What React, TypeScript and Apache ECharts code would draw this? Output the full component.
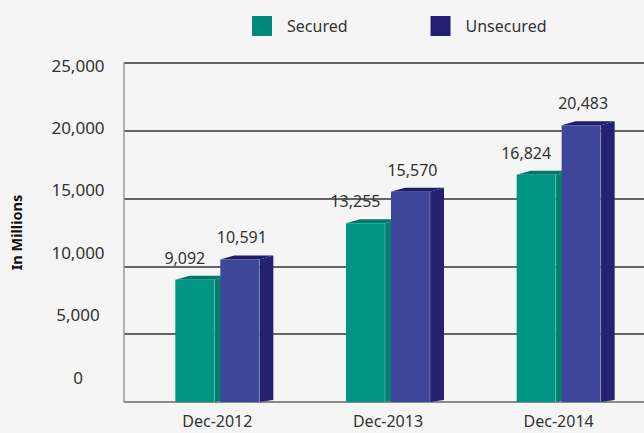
import React, { useEffect, useRef } from "react";
import * as echarts from "echarts";

const categories = ["Dec-2012", "Dec-2013", "Dec-2014"];
const secured = [9092, 13255, 16824];
const unsecured = [10591, 15570, 20483];
const yTicks = { min: 0, max: 25000, interval: 5000 };

const FONT = "'Noto Sans', 'Open Sans', sans-serif";
const fmt = (v: number) => v.toLocaleString("en-US");

const BAR_W = 39;
const DEPTH = 14;
const RISE = 4;

function makeRender(
  offset: number,
  labelDx: number,
  front: string,
  side: string,
  topC: string
) {
  return (params: any, api: any) => {
    const cat = api.value(0);
    const val = api.value(1);
    const base = api.coord([cat, 0]);
    const top = api.coord([cat, val]);
    const x0 = base[0] + offset;
    const x1 = x0 + BAR_W;
    const yT = top[1] + 1;
    const yB = base[1];
    return {
      type: "group",
      children: [
        {
          type: "polygon",
          shape: {
            points: [
              [x1, yT],
              [x1 + DEPTH, yT - RISE],
              [x1 + DEPTH, yB - 2],
              [x1, yB],
            ],
          },
          style: { fill: side },
        },
        {
          type: "polygon",
          shape: {
            points: [
              [x0, yT],
              [x0 + DEPTH, yT - RISE],
              [x1 + DEPTH, yT - RISE],
              [x1, yT],
            ],
          },
          style: { fill: topC },
        },
        {
          type: "rect",
          shape: { x: x0, y: yT, width: BAR_W, height: yB - yT },
          style: { fill: front },
        },
        {
          type: "line",
          shape: { x1: x1, y1: yT, x2: x1, y2: yB },
          style: { stroke: "rgba(255,255,255,0.25)", lineWidth: 1 },
        },
        {
          type: "text",
          style: {
            x: x0 + BAR_W / 2 + labelDx,
            y: yT - 22,
            text: fmt(val),
            fill: "#333",
            font: `16px ${FONT}`,
            align: "center",
            verticalAlign: "middle",
          },
        },
      ],
    };
  };
}

export default function App() {
  const ref = useRef<HTMLDivElement>(null);
  useEffect(() => {
    if (!ref.current) return;
    const chart = echarts.init(ref.current, undefined, { renderer: "svg" });
    chart.setOption({
      animation: false,
      backgroundColor: "#f5f5f5",
      textStyle: { fontFamily: FONT },
      legend: {
        left: 252,
        top: 16,
        padding: 0,
        itemWidth: 20,
        itemHeight: 20,
        itemGap: 83,
        icon: "rect",
        textStyle: { fontSize: 16, color: "#333", padding: [0, 0, 0, 10] },
        data: ["Secured", "Unsecured"],
      },
      grid: [
        { left: 117, top: 63, width: 527, height: 339 },
        { left: 132, top: 63, width: 519, height: 339 },
        { left: 117, top: 65, width: 527, height: 312 },
      ],
      xAxis: [
        {
          gridIndex: 0,
          type: "category",
          data: categories,
          axisLine: { show: true, lineStyle: { color: "#999", width: 1.5 } },
          axisTick: { show: false },
          axisLabel: { show: false },
        },
        {
          gridIndex: 1,
          type: "category",
          data: categories,
          axisLine: { show: false },
          axisTick: { show: false },
          axisLabel: { fontSize: 16, color: "#333", margin: 11 },
        },
        {
          gridIndex: 2,
          type: "category",
          data: categories,
          show: false,
        },
      ],
      yAxis: [
        {
          gridIndex: 0,
          type: "value",
          ...yTicks,
          name: "In Millions",
          nameLocation: "middle",
          nameGap: 101,
          nameTextStyle: { fontSize: 14.5, fontWeight: "bold", color: "#111" },
          axisLine: { show: true, lineStyle: { color: "#999", width: 1.5 } },
          axisTick: { show: false },
          axisLabel: { show: false },
          splitLine: { show: true, lineStyle: { color: "#333", width: 1.5 } },
        },
        {
          gridIndex: 1,
          type: "value",
          ...yTicks,
          show: false,
          splitLine: { show: false },
        },
        {
          gridIndex: 2,
          type: "value",
          ...yTicks,
          axisLine: { show: false },
          axisTick: { show: false },
          splitLine: { show: false },
          axisLabel: {
            fontSize: 17,
            color: "#333",
            align: "center",
            margin: 39,
            formatter: (v: number) => fmt(v),
          },
        },
      ],
      series: [
        {
          name: "Secured",
          type: "custom",
          xAxisIndex: 1,
          yAxisIndex: 1,
          itemStyle: { color: "#00897a" },
          data: secured.map((v, i) => [i, v]),
          renderItem: makeRender(-42, -10, "#009484", "#007f72", "#00786b"),
        },
        {
          name: "Unsecured",
          type: "custom",
          xAxisIndex: 1,
          yAxisIndex: 1,
          itemStyle: { color: "#232072" },
          data: unsecured.map((v, i) => [i, v]),
          renderItem: makeRender(3, 2, "#3d4699", "#242172", "#1f1c69"),
        },
      ],
    });
    return () => chart.dispose();
  }, []);
  return (
    <div
      ref={ref}
      style={{ position: "absolute", left: 0, top: 0, width: 644, height: 433 }}
    />
  );
}
